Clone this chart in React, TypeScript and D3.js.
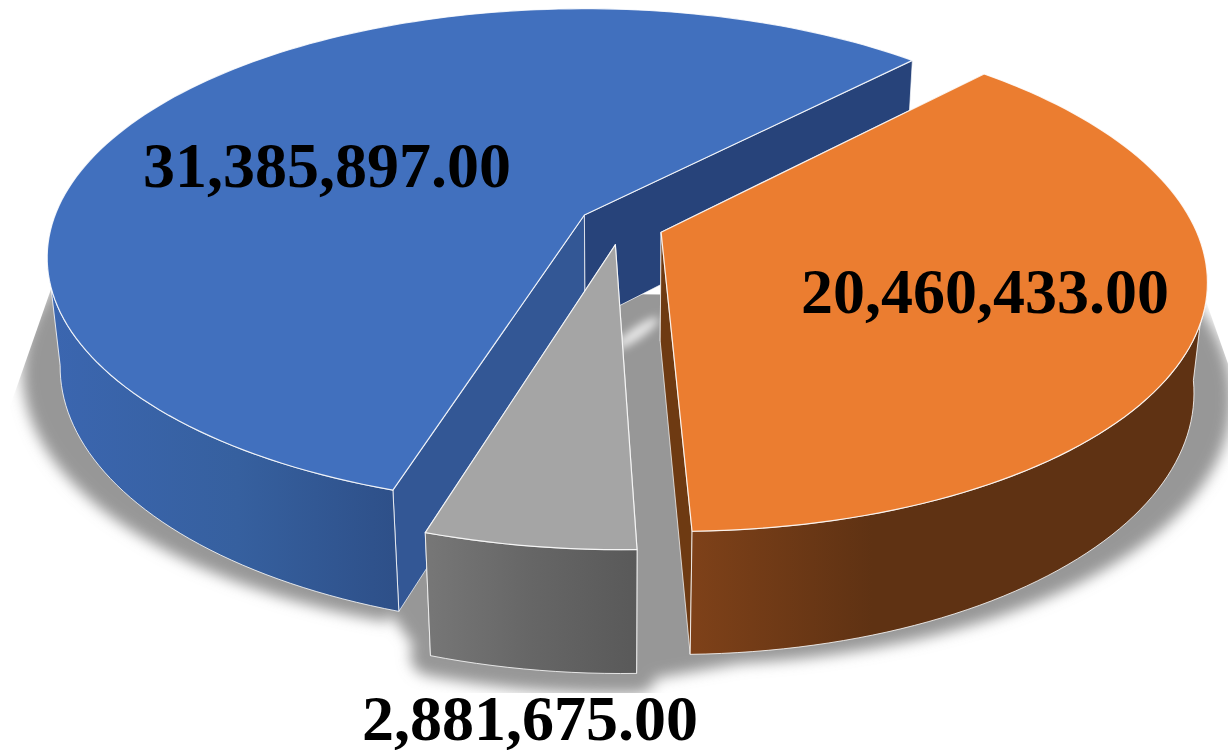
import React from "react";
import * as d3 from "d3";

const categories = ["A", "B", "C"];
const values = [31385897, 20460433, 2881675];
const labels = ["31,385,897.00", "20,460,433.00", "2,881,675.00"];
const topColors = ["#4170BE", "#EB7D30", "#A5A5A5"];
const wallStops = [
  ["#3B66B0", "#36609F", "#2E5089"],
  ["#7E4119", "#5F3213", "#5F3213"],
  ["#777777", "#666666", "#595959"],
];
const wallMid = [0.55, 0.35, 0.5];
const innerColors = [["#335795", "#27437A"], ["#6E3A12", "#6E3A12"], ["#5f5f5f", "#5f5f5f"]];
const labelPos = [[143, 187], [801, 313], [362, 740]];
const shadowStroke = [2, 2, 40];

const W = 1228, H = 750;
const CX = 621, CY = 225, S = 533, SHEAR = 6, T = 245, TILT = 0.172, Q = 0.0226, DROP = 111, EXPLODE = 0.08;

const project = (u: number, v: number, z: number): [number, number] => {
  const d = 1 - TILT * v + Q * z;
  return [CX + (S * u + SHEAR * v) / d, CY + (T * v + DROP * z) / d];
};

const startAngle = (197.6 * Math.PI) / 180;
const arcs = d3.pie<number>().sort(null).startAngle(startAngle).endAngle(startAngle + 2 * Math.PI)(values);
const line = d3.line();

type A = d3.PieArcDatum<number>;
const offset = (a: A) => {
  const m = (a.startAngle + a.endAngle) / 2;
  return [EXPLODE * Math.sin(m), -EXPLODE * Math.cos(m)];
};
const angles = (a: A) => {
  const n = Math.max(8, Math.round((a.endAngle - a.startAngle) * 40));
  return d3.range(n + 1).map((i) => a.startAngle + ((a.endAngle - a.startAngle) * i) / n);
};
const rimPoint = (a: A, th: number, z: number, r = 1, sx = 1): [number, number] => {
  const [ox, oy] = offset(a);
  return project(ox + r * sx * Math.sin(th), oy - r * Math.cos(th), z);
};
const rim = (a: A, z: number) => angles(a).map((th) => rimPoint(a, th, z));
const isFront = (th: number) => -Math.cos(th) > TILT - 0.03;
const frontAngles = (a: A) => angles(a).filter(isFront);
const apex = (a: A, z: number) => {
  const [ox, oy] = offset(a);
  return project(ox, oy, z);
};
const closed = (p: [number, number][]) => (line(p) as string) + "Z";

// soft ground shadow: each slice's footprint, plus the span that fills the gaps between slices
const shadowShape = (a: A, i: number): [number, number][] =>
  i === 2
    ? [apex(a, 1), ...angles(a).map((th) => rimPoint(a, th, 1))]
    : [apex(a, 1), ...angles(a).map((th) => rimPoint(a, th, 1.05, 1.01, 1.06))];
const frontSpan = d3.polygonHull([
  ...rim(arcs[2], 1),
  apex(arcs[0], 0.1),
  apex(arcs[1], 0.1),
  rim(arcs[0], 1)[0],
  ...rim(arcs[1], 1).filter((p) => p[0] < rimPoint(arcs[1], arcs[1].endAngle, 1)[0] + 90),
]) as [number, number][];

const leftTip = rim(arcs[0], 0.3).reduce((m, p) => (p[0] < m[0] ? p : m));
const rightTip = rim(arcs[1], 0.15).reduce((m, p) => (p[0] > m[0] ? p : m));
const shadowClip: [number, number][] = [
  leftTip,
  [leftTip[0] - 70, leftTip[1] + 200],
  [leftTip[0] - 70, 693],
  [rightTip[0] + 60, 693],
  [rightTip[0] + 60, rightTip[1] + 170],
  rightTip,
];

export default function App() {
  const glintBase = apex(arcs[0], 1);
  const gx = glintBase[0] + 52, gy = glintBase[1] + 10;
  return (
    <svg width={W} height={H} style={{ position: "absolute", left: 0, top: 0, background: "#fff" }}>
      <defs>
        <filter id="sh" x="-20%" y="-20%" width="140%" height="140%">
          <feGaussianBlur stdDeviation="7" />
        </filter>
        <filter id="gl" x="-50%" y="-100%" width="200%" height="300%">
          <feGaussianBlur stdDeviation="4" />
        </filter>
        <clipPath id="shClip">
          <path d={closed(shadowClip)} />
        </clipPath>
        {arcs.map((a, i) => {
          const xs = frontAngles(a).map((th) => rimPoint(a, th, 0)[0]);
          const [x1, x2] = d3.extent(xs) as [number, number];
          return (
            <linearGradient key={i} id={`wall${i}`} gradientUnits="userSpaceOnUse" x1={x1} x2={x2} y1={0} y2={0}>
              <stop offset="0" stopColor={wallStops[i][0]} />
              <stop offset={wallMid[i]} stopColor={wallStops[i][1]} />
              <stop offset="1" stopColor={wallStops[i][2]} />
            </linearGradient>
          );
        })}
      </defs>

      <g clipPath="url(#shClip)">
        <g filter="url(#sh)" fill="#979797" stroke="#979797" strokeLinejoin="round">
          {arcs.map((a, i) => (
            <path key={i} d={closed(shadowShape(a, i))} strokeWidth={shadowStroke[i]} />
          ))}
          <path d={closed(frontSpan)} strokeWidth={16} />
        </g>
      </g>

      {arcs.map((a, i) => {
        const top = rim(a, 0);
        const bot = rim(a, 1);
        const front = frontAngles(a);
        const wall = [
          ...front.map((th) => rimPoint(a, th, 0)),
          ...front.slice().reverse().map((th) => rimPoint(a, th, 1)),
        ];
        const ap0 = apex(a, 0), ap1 = apex(a, 1);
        return (
          <g key={categories[i]} strokeLinejoin="round">
            {i === 0 && (
              <ellipse cx={gx} cy={gy} rx={26} ry={6} fill="#e8e8e8" filter="url(#gl)"
                transform={`rotate(-35 ${gx} ${gy})`} />
            )}
            <path d={closed([ap0, top[0], bot[0], ap1])} fill={innerColors[i][0]} stroke="#fff" strokeOpacity={0.7} strokeWidth={1} />
            <path d={closed([ap0, top[top.length - 1], bot[bot.length - 1], ap1])} fill={innerColors[i][1]} stroke="#fff" strokeOpacity={0.7} strokeWidth={1} />
            <path d={closed(wall)} fill={`url(#wall${i})`} stroke="#fff" strokeOpacity={0.8} strokeWidth={1} />
            <path d={closed([ap0, ...top])} fill={topColors[i]} stroke="#fff" strokeOpacity={0.85} strokeWidth={1.2} />
          </g>
        );
      })}

      {labels.map((t, i) => (
        <text key={t} x={labelPos[i][0]} y={labelPos[i][1]} fontFamily="'Liberation Serif'" fontWeight="bold" fontSize={64} fill="#000">
          {t}
        </text>
      ))}
    </svg>
  );
}
